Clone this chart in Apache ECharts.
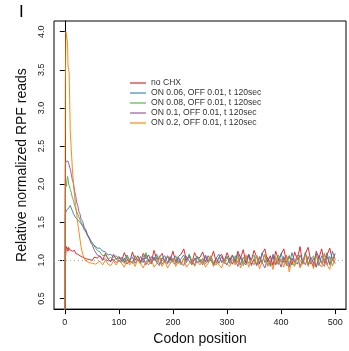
<!DOCTYPE html>
<html><head><meta charset="utf-8">
<script src="https://cdn.jsdelivr.net/npm/echarts@6/dist/echarts.min.js"></script>
<style>html,body{margin:0;padding:0;background:#fff;}#c{width:349px;height:351px;}</style>
</head><body><div id="c"></div>
<script>
var seriesNames = ["no CHX","ON 0.06, OFF 0.01, t 120sec","ON 0.08, OFF 0.01, t 120sec","ON 0.1, OFF 0.01, t 120sec","ON 0.2, OFF 0.01, t 120sec"];
var xTicks = [0,100,200,300,400,500];
var yTicks = [0.5,1.0,1.5,2.0,2.5,3.0,3.5,4.0];
var codons = [0,1,2,3,4,5,6,7,8,9,10,12,14,16,18,20,22,24,26,28,30,33,36,39,42,45,48,51,54,57,60,
65,70,75,80,85,90,95,100,
105,110,115,120,125,130,135,140,145,150,
155,160,165,170,175,180,185,190,195,200,
205,210,215,220,225,230,235,240,245,250,
255,260,265,270,275,280,285,290,295,300,
305,310,315,320,325,330,335,340,345,350,
355,360,365,370,375,380,385,390,395,400,
405,410,415,420,425,430,435,440,445,450,
455,460,465,470,475,480,485,490,495,500];
var noCHX = [0,1.02,1.1,1.18,1.2,1.15,1.12,1.17,1.19,1.14,1.13,1.15,1.12,1.1,1.13,1.09,1.1,1.08,1.1,1.06,1.07,1.04,1.05,1.02,1.04,1.01,1.03,1.0,1.04,1.02,1.03,
1.06,1.0,1.09,1.02,0.98,1.08,1.01,1.05,
0.99,1.1,1.02,0.97,1.11,1.0,1.06,0.98,1.09,1.02,
1.07,0.98,1.13,1.01,1.04,1.09,0.97,1.06,1.0,1.12,
0.98,1.05,1.08,1.15,1.0,1.06,0.96,1.1,1.02,1.04,
1.11,0.98,1.06,1.01,1.12,0.97,1.04,1.08,0.99,1.1,
1.01,1.07,0.97,1.12,1.03,1.14,0.96,1.08,1.0,1.13,
1.04,0.95,1.09,1.15,0.98,1.06,0.93,1.12,1.01,1.08,
1.15,0.98,1.06,0.94,1.11,1.01,1.18,0.95,1.09,1.17,
0.99,0.92,1.12,1.03,1.15,0.96,1.07,1.16,1.0,1.09];
var on006 = [0,1.6,1.63,1.66,1.64,1.67,1.65,1.68,1.7,1.69,1.72,1.7,1.65,1.61,1.59,1.56,1.56,1.53,1.53,1.5,1.48,1.45,1.4,1.37,1.32,1.3,1.25,1.24,1.2,1.2,1.16,
1.16,1.12,1.11,1.07,1.08,1.04,1.06,1.02,
1.04,0.98,1.07,1.0,0.96,1.06,0.99,1.05,0.97,1.08,
0.98,1.05,1.0,1.08,0.95,1.03,1.06,0.97,1.04,0.99,
1.06,0.96,1.02,1.07,0.97,1.08,0.99,0.94,1.05,1.01,
0.97,1.07,0.99,1.04,0.95,1.03,1.08,0.97,1.01,1.05,
0.96,1.06,0.99,1.09,0.94,1.04,0.98,1.08,0.93,1.02,
1.06,0.96,1.1,0.97,1.04,0.92,1.08,1.0,0.95,1.09,
0.97,1.06,0.93,1.1,0.99,0.95,1.07,0.98,1.11,0.94,
1.04,0.96,1.09,0.93,1.06,1.0,1.1,0.95,1.12,1.01];
var on008 = [0,1.95,2.0,1.97,2.06,2.1,2.07,2.0,1.98,1.96,1.93,1.89,1.82,1.79,1.72,1.7,1.64,1.62,1.57,1.56,1.5,1.48,1.42,1.4,1.34,1.32,1.26,1.24,1.19,1.18,1.13,
1.11,1.06,1.07,1.02,1.04,0.99,1.03,0.98,
1.03,0.96,1.05,0.99,0.97,1.06,1.0,0.95,1.04,1.1,
0.99,0.95,1.04,0.98,1.06,0.95,1.01,1.05,0.96,1.03,
0.97,1.05,0.95,1.03,0.99,1.07,0.96,1.01,1.05,0.97,
1.03,0.95,1.01,1.06,0.97,0.94,1.04,0.99,0.96,1.05,
0.99,0.95,1.06,0.97,1.03,0.93,1.05,0.96,1.01,1.07,
0.94,1.03,0.97,1.08,0.93,1.01,1.05,0.95,1.07,0.97,
1.03,0.93,1.06,0.97,0.92,1.05,1.0,0.95,1.08,0.96,
1.01,1.06,0.91,1.03,0.96,1.09,0.94,1.05,0.93,1.01];
var on01 = [0,2.25,2.3,2.29,2.31,2.28,2.3,2.27,2.29,2.25,2.2,2.13,2.05,2.01,1.91,1.85,1.76,1.72,1.64,1.61,1.54,1.51,1.43,1.4,1.33,1.3,1.23,1.2,1.14,1.12,1.07,
1.05,1.01,1.02,0.99,1.0,1.01,0.97,1.01,
0.97,1.03,0.95,1.01,1.04,0.96,1.02,0.97,1.03,0.94,
1.01,0.96,1.04,0.97,0.93,1.03,0.99,0.95,1.05,0.97,
0.95,1.03,0.97,0.93,1.05,0.99,0.94,1.03,0.97,1.01,
0.94,1.05,0.97,1.01,0.93,1.03,0.96,1.05,0.97,0.94,
1.03,0.95,1.01,0.92,1.05,0.97,0.94,1.06,0.95,1.01,
0.93,1.05,0.97,0.9,1.03,0.95,1.06,0.94,1.01,0.91,
1.05,0.95,0.91,1.03,0.97,1.07,0.92,1.01,0.94,1.05,
0.95,1.03,0.91,1.06,0.97,0.92,1.05,0.94,1.01,0.96];
var on02 = [0,3.3,4.0,4.02,3.98,3.85,3.55,3.5,3.46,3.1,2.7,2.45,2.2,2.0,1.85,1.72,1.6,1.48,1.38,1.28,1.18,1.08,1.02,0.99,1.0,0.97,0.99,0.96,0.98,0.95,0.97,
0.99,0.94,1.0,0.95,0.93,0.99,0.94,1.0,
0.96,0.91,1.01,0.94,0.99,0.92,1.02,0.96,0.9,0.99,
0.94,1.01,0.91,0.96,1.03,0.92,0.99,0.9,0.96,1.01,
0.92,0.99,0.94,1.03,0.91,0.96,1.01,0.92,0.99,0.94,
1.01,0.91,0.96,1.04,0.92,0.99,0.94,0.9,1.01,0.95,
0.92,1.01,0.94,1.05,0.9,0.98,1.07,0.91,1.01,0.94,
1.06,0.89,0.98,1.08,0.92,1.0,0.88,1.05,0.94,1.02,
0.91,1.07,0.85,1.0,0.94,1.06,0.9,0.98,1.08,0.92,
1.0,0.89,1.06,0.96,0.91,1.09,0.94,0.88,1.04,0.96];
var colors = ["#E41A1C","#377EB8","#4DAF4A","#984EA3","#FF7F00"];
var allVals = [noCHX,on006,on008,on01,on02];

var chart = echarts.init(document.getElementById('c'), null, {renderer:'canvas'});
var FONT = "'Liberation Sans', Arial, Helvetica, sans-serif";
var series = allVals.map(function(v, k){
  var s = {
    name: seriesNames[k], type:'line', symbol:'none', showSymbol:false,
    data: codons.map(function(c,i){ return [c, v[i]]; }),
    lineStyle:{width:1, color:colors[k], opacity:0.92},
    itemStyle:{color:colors[k]},
    clip:true, z: 2 + k
  };
  if (k === 0) {
    s.markLine = {silent:true, symbol:'none', label:{show:false},
      lineStyle:{type:[1,3], color:'#aaaaaa', width:1}, data:[{yAxis:1}]};
  }
  return s;
});
chart.setOption({
  animation:false,
  textStyle:{fontFamily:FONT},
  grid:{left:54, right:3, top:21, bottom:40, show:true, borderColor:'#000', borderWidth:1},
  xAxis:{type:'value', min:-20, max:520,
    axisLine:{show:true, lineStyle:{color:'#000', width:1}},
    axisTick:{show:true, length:5, lineStyle:{color:'#000'}, customValues:xTicks},
    axisLabel:{fontSize:9, color:'#222', margin:9, fontFamily:FONT, customValues:xTicks},
    splitLine:{show:false},
    name:'Codon position', nameLocation:'middle', nameGap:18,
    nameTextStyle:{fontSize:14, color:'#111', fontFamily:FONT}},
  yAxis:{type:'value', min:0.36, max:4.14,
    axisLine:{show:true, lineStyle:{color:'#000', width:1}},
    axisTick:{show:true, length:5, lineStyle:{color:'#000'}, customValues:yTicks},
    axisLabel:{fontSize:9, color:'#222', margin:8, rotate:90, fontFamily:FONT, customValues:yTicks,
      formatter:function(v){return v.toFixed(1);}},
    splitLine:{show:false},
    name:'Relative normalized RPF reads', nameLocation:'middle', nameGap:20, nameRotate:90,
    nameTextStyle:{fontSize:14, color:'#111', fontFamily:FONT}},
  legend:{show:true, orient:'vertical', left:125, top:73, icon:'rect', itemWidth:16, itemHeight:1.5, itemGap:0,
    itemStyle:{opacity:0.75},
    data:seriesNames, textStyle:{fontSize:8.6, lineHeight:10, color:'#333', fontFamily:FONT}},
  graphic:[{type:'text', left:19, top:4, style:{text:'I', fontSize:17, fill:'#000', fontFamily:FONT}}],
  series: series
});
</script></body></html>
